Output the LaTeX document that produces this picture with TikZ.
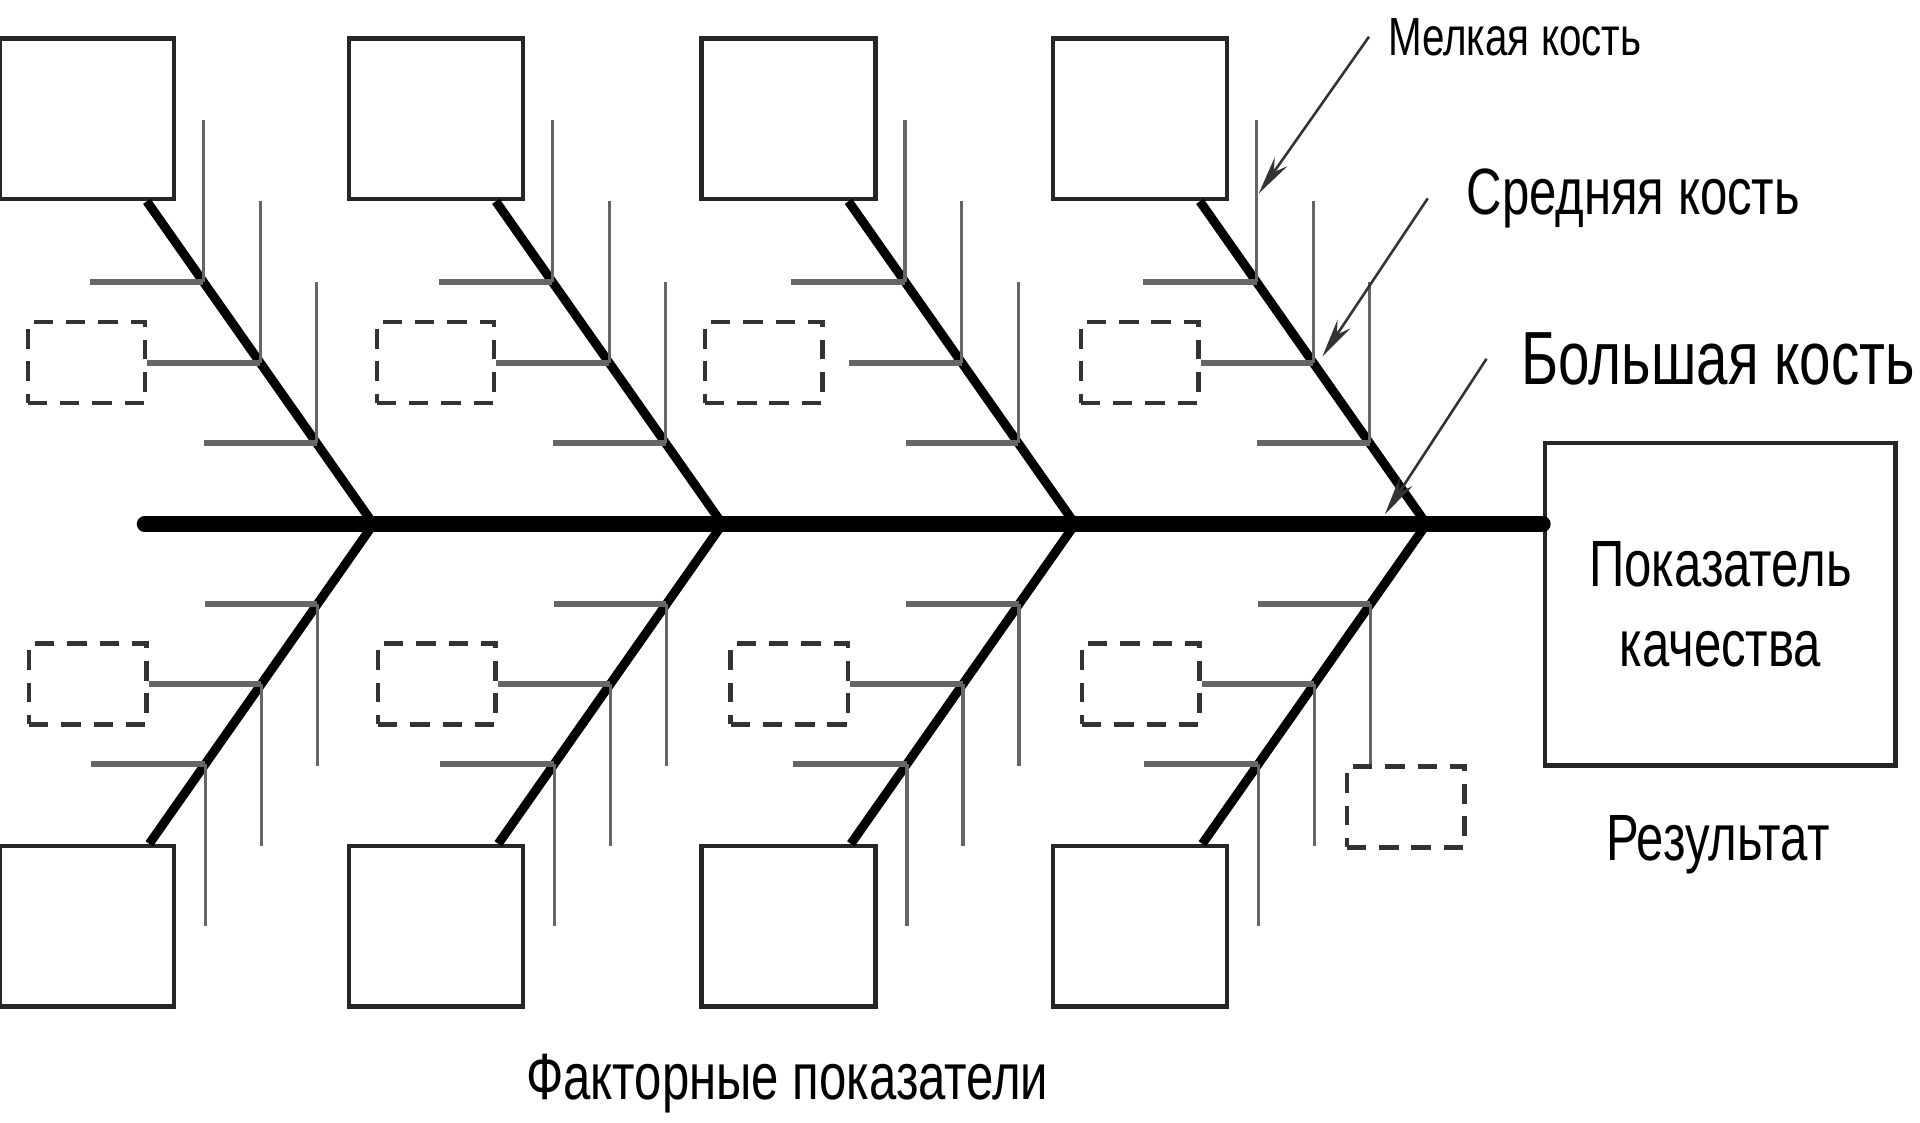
\documentclass[tikz,border=0pt]{standalone}
\usepackage{fontspec}
\setmainfont{Liberation Sans}[FakeStretch=0.75]
\usetikzlibrary{calc,arrows.meta}

\tikzset{
  factor/.style={draw=black!85, line width=1.05pt, minimum width=1.42cm, minimum height=1.31cm, inner sep=0pt},
  subfactor/.style={draw=black!80, dash pattern=on 4.5pt off 3pt, line width=1pt, minimum width=0.96cm, minimum height=0.66cm, inner sep=0pt},
  spine/.style={line width=3.6pt, line cap=round},
  bigbone/.style={line width=2.1pt},
  midbone/.style={draw=black!60, line width=1.35pt},
  smallbone/.style={draw=black!60, line width=0.75pt},
  pointer/.style={draw=black!80, line width=0.6pt, -{Stealth[length=9pt,width=3.6pt]}},
  caption/.style={font=\fontsize{15.2}{18.5}\selectfont, align=center, inner sep=0pt},
}

\begin{document}
\begin{tikzpicture}[x=0.01cm, y=-0.01cm]
\useasboundingbox (0,0) rectangle (1568,917);

% head of the fish: the result
\node[factor, caption, minimum width=2.86cm, minimum height=2.63cm] (head) at (1405,493.5) {Показатель\\качества};
\node[caption] (result) at (1403,690) {Результат};

% spine
\coordinate (tail) at (118,428);
\draw[spine] (tail) -- (tail -| head.west);

% four big bones up and four down, \gap moves a loose dashed box
\foreach \n/\dx/\gap in {1/0/0, 2/285/0, 3/573/20, 4/860/0} {
  \coordinate (joint\n) at (305+\dx,428);
  \node[factor] (up\n) at (71+\dx,97) {};
  \node[factor] (down\n) at (71+\dx,756.5) {};

  % big bones
  \coordinate (ustart\n) at ($(up\n.south east)+(-24,0)$);
  \coordinate (dstart\n) at ($(down\n.north east)+(-22,0)$);
  \draw[bigbone] (ustart\n) -- (joint\n) -- (dstart\n);

  % points on the big bones
  \coordinate (u1\n) at ($(ustart\n)!0.25!(joint\n)$);
  \coordinate (u2\n) at ($(ustart\n)!0.5!(joint\n)$);
  \coordinate (u3\n) at ($(ustart\n)!0.75!(joint\n)$);
  \coordinate (d1\n) at ($(dstart\n)!0.25!(joint\n)$);
  \coordinate (d2\n) at ($(dstart\n)!0.5!(joint\n)$);
  \coordinate (d3\n) at ($(dstart\n)!0.75!(joint\n)$);

  % dashed boxes
  \node[subfactor, anchor=east] (us\n) at ($(u2\n)+(-92-\gap,0)$) {};
  \node[subfactor, anchor=east] (ds\n) at ($(d2\n)+(-92,0)$) {};

  % medium bones
  \draw[midbone] ($(u1\n)+(-93,0)$) -- (u1\n);
  \draw[midbone] ($(us\n.east)+(\gap,0)$) -- (u2\n);
  \draw[midbone] ($(u3\n)+(-92,0)$) -- (u3\n);
  \draw[midbone] ($(d1\n)+(-93,0)$) -- (d1\n);
  \draw[midbone] (ds\n.east) -- (d2\n);
  \draw[midbone] ($(d3\n)+(-92,0)$) -- (d3\n);

  % small bones
  \foreach \k in {1,2,3} {
    \draw[smallbone] (u\k\n) -- ++(0,-132);
    \draw[smallbone] (d\k\n) -- ++(0,132);
  }
}

% one more dashed box, on its own
\node[subfactor] (extra) at (1148,659) {};

% names of the bones
\node[anchor=west, inner sep=0pt, font=\fontsize{12.5}{15}\selectfont] (smallname) at (1133,30) {Мелкая кость};
\node[anchor=west, inner sep=0pt, font=\fontsize{15.2}{18}\selectfont] (midname) at (1197,162) {Средняя кость};
\node[anchor=west, inner sep=0pt, font=\fontsize{17.5}{21}\selectfont] (bigname) at (1242,293) {Большая кость};
\coordinate (smalltip) at (1028,158);
\coordinate (midtip) at (1080,291);
\coordinate (bigtip) at (1131,420);
\draw[pointer] ([xshift=-0.15cm]smallname.west) -- (smalltip);
\draw[pointer] ([xshift=-0.31cm]midname.west) -- (midtip);
\draw[pointer] ([xshift=-0.28cm]bigname.west) -- (bigtip);

% the causes
\node[caption] (factors) at (643,885) {Факторные показатели};
\end{tikzpicture}
\end{document}
